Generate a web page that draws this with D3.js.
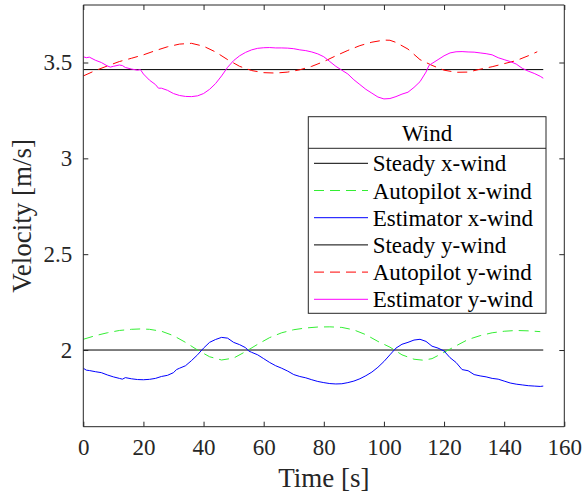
<!DOCTYPE html>
<html>
<head>
<meta charset="utf-8">
<script src="https://cdn.jsdelivr.net/npm/d3@7"></script>
<style>
  html, body { margin: 0; padding: 0; background: #fff; }
</style>
</head>
<body>
<svg id="chart" width="584" height="495"></svg>
<script>
// Wind velocity components over time
const steadyX = 2.0;
const steadyY = 3.463;
const steadyTime = [0, 153];

const autoTime = [0, 4, 8, 12, 16, 19, 22, 26, 30, 34, 38, 42, 46, 50, 54, 58, 62, 66, 70, 74, 78, 82, 86, 90, 94, 98, 102, 106, 110, 113, 116, 120, 122, 124, 128, 132, 136, 140, 144, 148, 152];
const autoX = [2.056, 2.075, 2.090, 2.102, 2.108, 2.110, 2.108, 2.098, 2.075, 2.040, 2.000, 1.965, 1.948, 1.958, 1.992, 2.030, 2.065, 2.090, 2.106, 2.115, 2.120, 2.121, 2.118, 2.105, 2.080, 2.045, 2.015, 1.975, 1.952, 1.947, 1.955, 1.988, 2.005, 2.022, 2.055, 2.075, 2.090, 2.098, 2.102, 2.100, 2.096];

const autoTimeY = [0, 4, 8, 12, 16, 20, 24, 28, 32, 36, 40, 44, 48, 52, 56, 60, 64, 68, 72, 76, 80, 84, 88, 92, 96, 100, 102, 104, 108, 112, 116, 120, 124, 128, 132, 136, 140, 144, 148, 151];
const autoY = [3.430, 3.458, 3.482, 3.505, 3.522, 3.540, 3.562, 3.582, 3.596, 3.600, 3.585, 3.555, 3.515, 3.480, 3.458, 3.447, 3.445, 3.450, 3.462, 3.480, 3.505, 3.535, 3.563, 3.588, 3.606, 3.617, 3.616, 3.605, 3.570, 3.515, 3.485, 3.460, 3.449, 3.450, 3.465, 3.478, 3.494, 3.510, 3.535, 3.556];

const estTimeX = [0, 1, 2, 4, 6, 8, 10, 12, 13, 14, 16, 18, 20, 22, 24, 26, 28, 30, 31, 32, 34, 36, 38, 40, 42, 44, 46, 48, 50, 52, 54, 55, 56, 58, 60, 62, 64, 66, 68, 70, 72, 74, 76, 78, 80, 82, 84, 86, 88, 90, 92, 94, 96, 98, 100, 102, 104, 106, 108, 110, 112, 114, 116, 118, 120, 122, 124, 126, 128, 130, 132, 134, 136, 138, 140, 142, 144, 146, 148, 150, 152, 153];
const estX = [1.905, 1.895, 1.893, 1.887, 1.882, 1.870, 1.860, 1.852, 1.848, 1.856, 1.850, 1.846, 1.845, 1.847, 1.852, 1.862, 1.868, 1.882, 1.898, 1.905, 1.918, 1.945, 1.975, 2.010, 2.040, 2.055, 2.066, 2.062, 2.040, 2.028, 2.012, 1.995, 1.988, 1.975, 1.955, 1.935, 1.918, 1.905, 1.890, 1.872, 1.862, 1.855, 1.845, 1.836, 1.830, 1.825, 1.823, 1.824, 1.830, 1.838, 1.850, 1.866, 1.885, 1.910, 1.940, 1.975, 2.010, 2.030, 2.040, 2.052, 2.056, 2.045, 2.020, 2.010, 1.995, 1.960, 1.935, 1.898, 1.892, 1.872, 1.865, 1.860, 1.852, 1.848, 1.838, 1.828, 1.822, 1.818, 1.814, 1.812, 1.810, 1.812];

const estTimeY = [0, 1, 2, 4, 6, 8, 9, 10, 12, 13, 14, 16, 18, 19, 20, 22, 24, 25, 26, 28, 30, 32, 34, 36, 38, 40, 42, 44, 46, 48, 50, 52, 54, 56, 58, 60, 62, 64, 66, 68, 70, 72, 74, 76, 78, 80, 82, 84, 86, 88, 90, 92, 94, 96, 98, 100, 102, 104, 106, 108, 110, 112, 114, 115, 116, 118, 120, 122, 124, 126, 128, 130, 132, 134, 136, 138, 140, 142, 144, 146, 148, 150, 152, 153];
const estY = [3.530, 3.525, 3.528, 3.512, 3.500, 3.482, 3.476, 3.480, 3.487, 3.484, 3.474, 3.466, 3.460, 3.463, 3.440, 3.408, 3.385, 3.366, 3.366, 3.355, 3.338, 3.328, 3.323, 3.322, 3.326, 3.338, 3.360, 3.390, 3.430, 3.475, 3.510, 3.535, 3.553, 3.566, 3.574, 3.577, 3.578, 3.576, 3.576, 3.575, 3.572, 3.566, 3.562, 3.555, 3.545, 3.530, 3.505, 3.480, 3.460, 3.440, 3.410, 3.385, 3.360, 3.340, 3.320, 3.310, 3.312, 3.322, 3.335, 3.345, 3.370, 3.400, 3.450, 3.485, 3.495, 3.515, 3.535, 3.550, 3.556, 3.557, 3.555, 3.554, 3.550, 3.546, 3.540, 3.525, 3.515, 3.505, 3.492, 3.470, 3.455, 3.443, 3.428, 3.418];

const xTicks = [0, 20, 40, 60, 80, 100, 120, 140, 160];
const yTicks = [2, 2.5, 3, 3.5];
const legendTitle = "Wind";
const legendLabels = ["Steady x-wind", "Autopilot x-wind", "Estimator x-wind", "Steady y-wind", "Autopilot y-wind", "Estimator y-wind"];

const series = [
  { t: steadyTime, v: [steadyX, steadyX], color: "#000000", dash: null },
  { t: autoTime, v: autoX, color: "#33ee33", dash: "10,6" },
  { t: estTimeX, v: estX, color: "#0000ff", dash: null },
  { t: steadyTime, v: [steadyY, steadyY], color: "#000000", dash: null },
  { t: autoTimeY, v: autoY, color: "#ff0000", dash: "10,6" },
  { t: estTimeY, v: estY, color: "#ff00ff", dash: null }
];

const FONT = "'Liberation Serif', 'Times New Roman', Times, 'DejaVu Serif', 'Noto Serif', FreeSerif, 'Nimbus Roman', serif";
const svg = d3.select("#chart");
const pLeft = 83.3, pRight = 564.3, pTop = 5, pBottom = 426.7;
const x = d3.scaleLinear().domain([0, 160]).range([pLeft, pRight]);
const y = d3.scaleLinear().domain([1.6, 3.8]).range([pBottom, pTop]);
const axisColor = "#262626";
const tickLen = 5;

// data lines, clipped to the axes box
svg.append("clipPath").attr("id", "plotClip")
  .append("rect").attr("x", pLeft).attr("y", pTop).attr("width", pRight - pLeft).attr("height", pBottom - pTop);

const line = d3.line().x(d => x(d[0])).y(d => y(d[1]));
const g = svg.append("g").attr("clip-path", "url(#plotClip)");
series.forEach(s => {
  g.append("path")
    .datum(s.t.map((t, i) => [t, s.v[i]]))
    .attr("d", line)
    .attr("fill", "none")
    .attr("stroke", s.color)
    .attr("stroke-width", 1)
    .attr("stroke-dasharray", s.dash);
});

// axes with inward ticks on all four sides
const bottomAxis = d3.axisBottom(x).tickValues(xTicks).tickSize(-tickLen).tickPadding(12).tickFormat(d3.format("d"));
const topAxis = d3.axisTop(x).tickValues(xTicks).tickSize(-tickLen).tickFormat("");
const leftAxis = d3.axisLeft(y).tickValues(yTicks).tickSize(-tickLen).tickPadding(11).tickFormat(d => String(d));
const rightAxis = d3.axisRight(y).tickValues(yTicks).tickSize(-tickLen).tickFormat("");

function styleAxis(sel) {
  sel.attr("font-family", FONT).attr("font-size", 23);
  sel.select(".domain").attr("stroke", axisColor).attr("stroke-width", 1);
  sel.selectAll(".tick line").attr("stroke", axisColor).attr("stroke-width", 1);
  sel.selectAll(".tick text").attr("fill", "#262626");
}

svg.append("g").attr("transform", `translate(0,${pBottom})`).call(bottomAxis).call(styleAxis)
  .call(a => a.select(".domain").attr("d", `M${pLeft},0H${pRight}`));
svg.append("g").attr("transform", `translate(0,${pTop})`).call(topAxis).call(styleAxis)
  .call(a => a.select(".domain").attr("d", `M${pLeft},0H${pRight}`));
svg.append("g").attr("transform", `translate(${pLeft},0)`).call(leftAxis).call(styleAxis)
  .call(a => a.select(".domain").attr("d", `M0,${pTop}V${pBottom}`));
svg.append("g").attr("transform", `translate(${pRight},0)`).call(rightAxis).call(styleAxis)
  .call(a => a.select(".domain").attr("d", `M0,${pTop}V${pBottom}`));

// axis titles
svg.append("text")
  .attr("x", (pLeft + pRight) / 2).attr("y", 487)
  .attr("text-anchor", "middle")
  .attr("fill", "#262626")
  .attr("font-family", FONT).attr("font-size", 27)
  .text("Time [s]");

svg.append("text")
  .attr("transform", `translate(31,${(pTop + pBottom) / 2}) rotate(-90)`)
  .attr("text-anchor", "middle")
  .attr("fill", "#262626")
  .attr("font-family", FONT).attr("font-size", 27)
  .text("Velocity [m/s]");

// legend
const lg = svg.append("g").attr("font-family", FONT).attr("font-size", 23);
const lgLeft = 308.3, lgRight = 546, lgTop = 116.7, lgSep = 148.3, rowStart = 163.3, rowStep = 27.2;
const lgBottom = rowStart + rowStep * (legendLabels.length - 1) + 14;
lg.append("rect")
  .attr("x", lgLeft).attr("y", lgTop)
  .attr("width", lgRight - lgLeft).attr("height", lgBottom - lgTop)
  .attr("fill", "#fff").attr("stroke", "#262626").attr("stroke-width", 1);
lg.append("line")
  .attr("x1", lgLeft).attr("x2", lgRight).attr("y1", lgSep).attr("y2", lgSep)
  .attr("stroke", "#262626").attr("stroke-width", 1);
lg.append("text")
  .attr("x", (lgLeft + lgRight) / 2).attr("y", (lgTop + lgSep) / 2)
  .attr("dy", "0.35em")
  .attr("text-anchor", "middle")
  .text(legendTitle);

legendLabels.forEach((label, i) => {
  const yy = rowStart + i * rowStep;
  lg.append("line")
    .attr("x1", 314).attr("x2", 368).attr("y1", yy).attr("y2", yy)
    .attr("stroke", series[i].color).attr("stroke-width", 1)
    .attr("stroke-dasharray", series[i].dash);
  lg.append("text")
    .attr("x", 372.7).attr("y", yy).attr("dy", "0.35em")
    .attr("fill", "#000")
    .text(label);
});
</script>
</body>
</html>
